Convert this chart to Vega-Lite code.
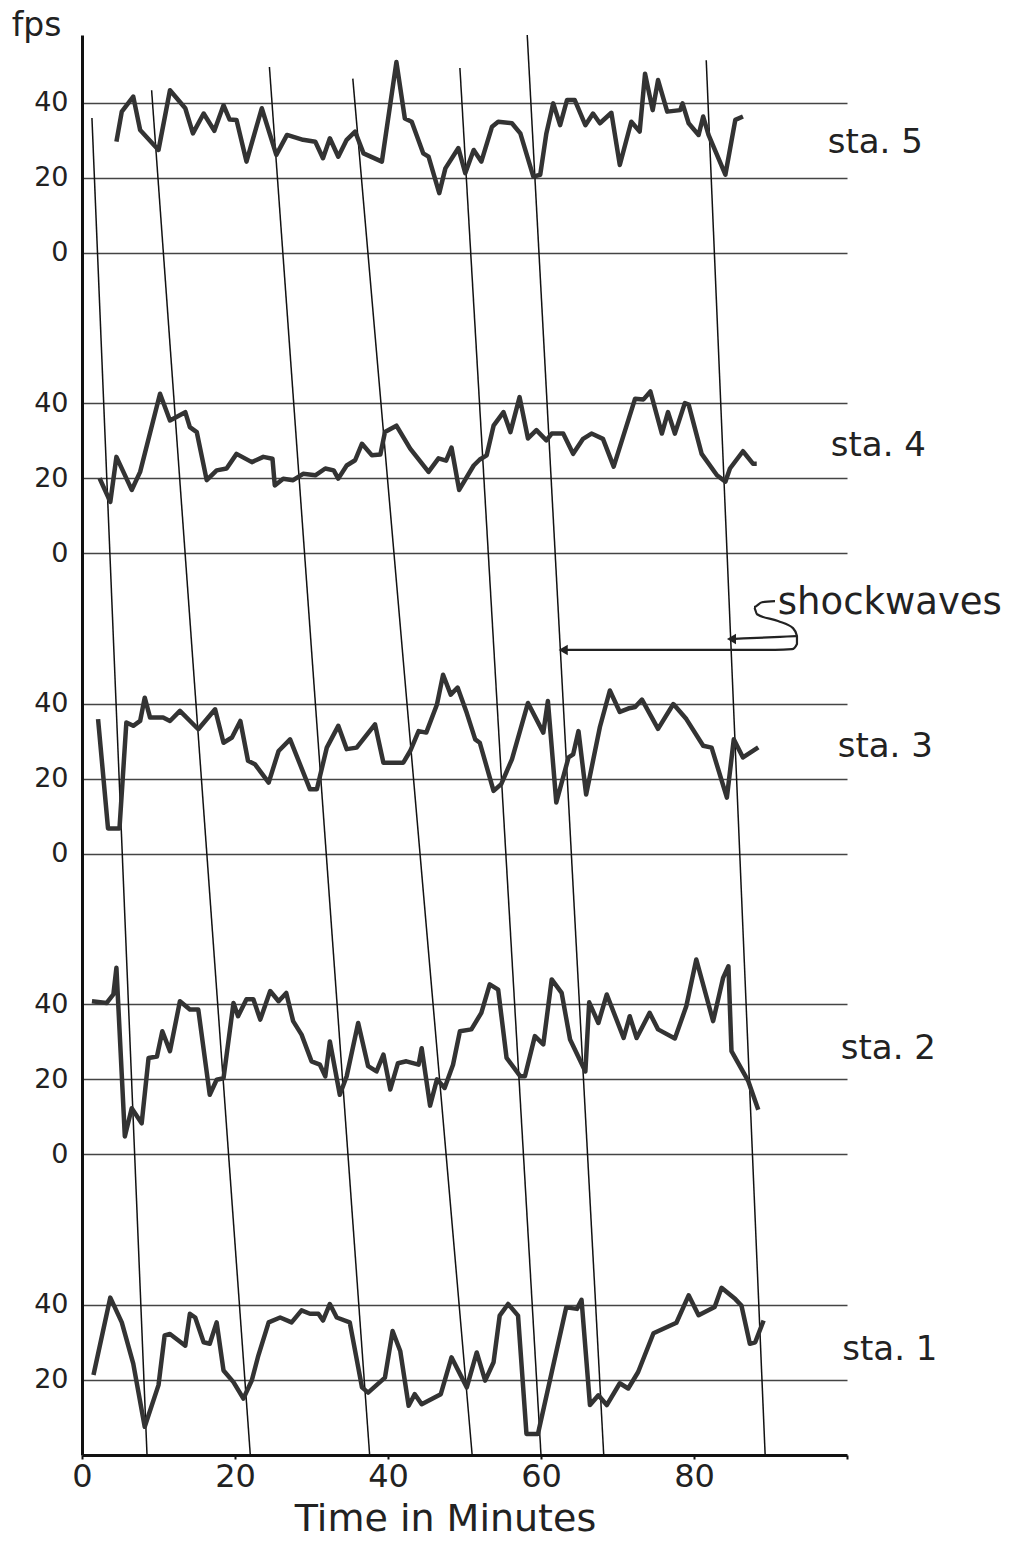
{
  "$schema": "https://vega.github.io/schema/vega-lite/v6.json",
  "autosize": {"type": "none"},
  "padding": {"left": 82, "top": 35, "right": 175, "bottom": 90},
  "width": 765,
  "height": 1420,
  "background": "white",
  "config": {"view": {"stroke": null}, "font": "DejaVu Sans"},
  "datasets": {
    "series": [
      {"s":5,"t":4.5,"fps":29.6},{"s":5,"t":5.2,"fps":37.6},{"s":5,"t":6.7,"fps":41.6},{"s":5,"t":7.6,"fps":32.7},{"s":5,"t":10.0,"fps":27.4},{"s":5,"t":11.5,"fps":43.3},{"s":5,"t":13.5,"fps":38.5},{"s":5,"t":14.5,"fps":31.8},{"s":5,"t":15.9,"fps":37.1},{"s":5,"t":17.3,"fps":32.5},{"s":5,"t":18.5,"fps":39.3},{"s":5,"t":19.3,"fps":35.5},{"s":5,"t":20.2,"fps":35.4},{"s":5,"t":21.5,"fps":24.3},{"s":5,"t":23.5,"fps":38.5},{"s":5,"t":25.4,"fps":26.1},{"s":5,"t":26.8,"fps":31.4},{"s":5,"t":28.9,"fps":30.1},{"s":5,"t":30.5,"fps":29.6},{"s":5,"t":31.5,"fps":25.2},{"s":5,"t":32.4,"fps":30.5},{"s":5,"t":33.5,"fps":25.6},{"s":5,"t":34.6,"fps":30.1},{"s":5,"t":35.7,"fps":32.3},{"s":5,"t":36.8,"fps":26.5},{"s":5,"t":39.2,"fps":24.3},{"s":5,"t":41.1,"fps":50.8},{"s":5,"t":42.2,"fps":35.8},{"s":5,"t":43.1,"fps":34.9},{"s":5,"t":44.6,"fps":26.5},{"s":5,"t":45.3,"fps":25.6},{"s":5,"t":46.7,"fps":15.9},{"s":5,"t":47.5,"fps":22.5},{"s":5,"t":49.2,"fps":27.9},{"s":5,"t":50.1,"fps":21.2},{"s":5,"t":51.2,"fps":27.4},{"s":5,"t":52.2,"fps":24.3},{"s":5,"t":53.6,"fps":33.6},{"s":5,"t":54.4,"fps":34.9},{"s":5,"t":56.2,"fps":34.5},{"s":5,"t":57.3,"fps":31.8},{"s":5,"t":59.0,"fps":20.3},{"s":5,"t":59.9,"fps":20.8},{"s":5,"t":60.7,"fps":31.8},{"s":5,"t":61.6,"fps":39.8},{"s":5,"t":62.5,"fps":34.0},{"s":5,"t":63.4,"fps":40.7},{"s":5,"t":64.4,"fps":40.7},{"s":5,"t":65.8,"fps":34.0},{"s":5,"t":66.8,"fps":37.1},{"s":5,"t":67.7,"fps":34.5},{"s":5,"t":69.2,"fps":37.3},{"s":5,"t":70.3,"fps":23.4},{"s":5,"t":71.8,"fps":34.9},{"s":5,"t":72.9,"fps":32.3},{"s":5,"t":73.6,"fps":47.7},{"s":5,"t":74.6,"fps":38.0},{"s":5,"t":75.3,"fps":46.0},{"s":5,"t":76.5,"fps":37.6},{"s":5,"t":78.2,"fps":38.0},{"s":5,"t":78.5,"fps":39.8},{"s":5,"t":79.3,"fps":34.5},{"s":5,"t":80.6,"fps":31.4},{"s":5,"t":81.2,"fps":36.3},{"s":5,"t":81.9,"fps":31.4},{"s":5,"t":84.1,"fps":20.8},{"s":5,"t":85.4,"fps":35.4},{"s":5,"t":86.4,"fps":36.3},
      {"s":4,"t":2.3,"fps":20.0},{"s":4,"t":3.7,"fps":13.7},{"s":4,"t":4.5,"fps":25.7},{"s":4,"t":6.5,"fps":16.9},{"s":4,"t":7.6,"fps":21.7},{"s":4,"t":10.2,"fps":42.5},{"s":4,"t":11.5,"fps":35.4},{"s":4,"t":13.5,"fps":37.6},{"s":4,"t":14.1,"fps":33.6},{"s":4,"t":15.0,"fps":32.3},{"s":4,"t":16.3,"fps":19.5},{"s":4,"t":17.6,"fps":22.1},{"s":4,"t":18.9,"fps":22.6},{"s":4,"t":20.2,"fps":26.5},{"s":4,"t":22.2,"fps":24.3},{"s":4,"t":23.7,"fps":25.7},{"s":4,"t":24.9,"fps":25.2},{"s":4,"t":25.2,"fps":18.1},{"s":4,"t":26.3,"fps":19.9},{"s":4,"t":27.6,"fps":19.5},{"s":4,"t":28.9,"fps":21.2},{"s":4,"t":30.5,"fps":20.8},{"s":4,"t":31.8,"fps":22.6},{"s":4,"t":32.9,"fps":22.1},{"s":4,"t":33.5,"fps":19.9},{"s":4,"t":34.6,"fps":23.4},{"s":4,"t":35.7,"fps":24.8},{"s":4,"t":36.6,"fps":29.2},{"s":4,"t":37.9,"fps":26.1},{"s":4,"t":39.0,"fps":26.3},{"s":4,"t":39.6,"fps":32.3},{"s":4,"t":41.1,"fps":34.0},{"s":4,"t":42.9,"fps":27.9},{"s":4,"t":45.3,"fps":21.7},{"s":4,"t":46.6,"fps":25.3},{"s":4,"t":47.6,"fps":24.7},{"s":4,"t":48.3,"fps":28.2},{"s":4,"t":49.3,"fps":16.9},{"s":4,"t":51.2,"fps":23.4},{"s":4,"t":52.0,"fps":25.0},{"s":4,"t":52.9,"fps":26.1},{"s":4,"t":53.8,"fps":34.0},{"s":4,"t":55.1,"fps":37.6},{"s":4,"t":56.0,"fps":32.3},{"s":4,"t":57.2,"fps":41.6},{"s":4,"t":58.3,"fps":30.6},{"s":4,"t":59.4,"fps":32.8},{"s":4,"t":60.7,"fps":30.1},{"s":4,"t":61.4,"fps":31.9},{"s":4,"t":62.9,"fps":31.9},{"s":4,"t":64.2,"fps":26.5},{"s":4,"t":65.5,"fps":30.5},{"s":4,"t":66.6,"fps":31.9},{"s":4,"t":68.1,"fps":30.5},{"s":4,"t":69.5,"fps":23.1},{"s":4,"t":72.3,"fps":41.2},{"s":4,"t":73.4,"fps":41.0},{"s":4,"t":74.3,"fps":43.1},{"s":4,"t":75.8,"fps":31.9},{"s":4,"t":76.6,"fps":37.6},{"s":4,"t":77.5,"fps":31.9},{"s":4,"t":78.8,"fps":40.0},{"s":4,"t":79.3,"fps":39.6},{"s":4,"t":81.0,"fps":26.5},{"s":4,"t":83.0,"fps":20.8},{"s":4,"t":84.1,"fps":19.1},{"s":4,"t":84.7,"fps":22.6},{"s":4,"t":86.4,"fps":27.2},{"s":4,"t":87.7,"fps":23.9},{"s":4,"t":88.2,"fps":23.9},
      {"s":3,"t":2.1,"fps":35.9},{"s":3,"t":3.4,"fps":6.8},{"s":3,"t":4.9,"fps":6.8},{"s":3,"t":5.8,"fps":35.0},{"s":3,"t":6.7,"fps":34.1},{"s":3,"t":7.6,"fps":35.4},{"s":3,"t":8.2,"fps":41.6},{"s":3,"t":8.9,"fps":36.3},{"s":3,"t":10.6,"fps":36.3},{"s":3,"t":11.5,"fps":35.4},{"s":3,"t":12.8,"fps":38.1},{"s":3,"t":15.2,"fps":33.2},{"s":3,"t":17.4,"fps":38.5},{"s":3,"t":18.5,"fps":29.6},{"s":3,"t":19.6,"fps":31.0},{"s":3,"t":20.7,"fps":35.4},{"s":3,"t":21.7,"fps":24.8},{"s":3,"t":22.6,"fps":23.9},{"s":3,"t":24.4,"fps":19.0},{"s":3,"t":25.7,"fps":27.4},{"s":3,"t":27.2,"fps":30.5},{"s":3,"t":29.8,"fps":17.2},{"s":3,"t":30.7,"fps":17.2},{"s":3,"t":32.0,"fps":28.3},{"s":3,"t":33.5,"fps":34.1},{"s":3,"t":34.6,"fps":27.9},{"s":3,"t":35.9,"fps":28.3},{"s":3,"t":38.3,"fps":34.5},{"s":3,"t":39.4,"fps":24.3},{"s":3,"t":42.0,"fps":24.3},{"s":3,"t":42.9,"fps":27.4},{"s":3,"t":44.0,"fps":32.7},{"s":3,"t":45.0,"fps":32.3},{"s":3,"t":46.4,"fps":39.8},{"s":3,"t":47.2,"fps":47.7},{"s":3,"t":48.2,"fps":42.4},{"s":3,"t":49.1,"fps":44.3},{"s":3,"t":50.3,"fps":37.5},{"s":3,"t":51.4,"fps":30.5},{"s":3,"t":52.0,"fps":29.6},{"s":3,"t":53.8,"fps":16.8},{"s":3,"t":54.8,"fps":18.6},{"s":3,"t":56.2,"fps":25.2},{"s":3,"t":58.3,"fps":40.2},{"s":3,"t":60.3,"fps":32.3},{"s":3,"t":60.9,"fps":40.7},{"s":3,"t":62.0,"fps":13.7},{"s":3,"t":63.6,"fps":25.7},{"s":3,"t":64.2,"fps":26.5},{"s":3,"t":64.9,"fps":32.7},{"s":3,"t":65.9,"fps":15.8},{"s":3,"t":67.7,"fps":33.8},{"s":3,"t":69.0,"fps":43.5},{"s":3,"t":70.3,"fps":37.8},{"s":3,"t":71.4,"fps":38.7},{"s":3,"t":72.3,"fps":39.1},{"s":3,"t":73.2,"fps":41.1},{"s":3,"t":75.3,"fps":33.3},{"s":3,"t":77.3,"fps":39.9},{"s":3,"t":79.0,"fps":35.9},{"s":3,"t":81.2,"fps":28.8},{"s":3,"t":82.3,"fps":28.3},{"s":3,"t":84.3,"fps":15.0},{"s":3,"t":85.2,"fps":30.5},{"s":3,"t":86.4,"fps":25.7},{"s":3,"t":88.4,"fps":28.4},
      {"s":2,"t":1.3,"fps":40.8},{"s":2,"t":3.2,"fps":40.3},{"s":2,"t":4.1,"fps":42.6},{"s":2,"t":4.5,"fps":49.7},{"s":2,"t":5.6,"fps":4.8},{"s":2,"t":6.5,"fps":12.3},{"s":2,"t":7.8,"fps":8.3},{"s":2,"t":8.7,"fps":25.7},{"s":2,"t":9.8,"fps":26.1},{"s":2,"t":10.5,"fps":32.8},{"s":2,"t":11.5,"fps":27.5},{"s":2,"t":12.8,"fps":40.8},{"s":2,"t":14.1,"fps":38.6},{"s":2,"t":15.2,"fps":38.6},{"s":2,"t":16.7,"fps":15.9},{"s":2,"t":17.6,"fps":19.9},{"s":2,"t":18.5,"fps":20.3},{"s":2,"t":19.8,"fps":40.3},{"s":2,"t":20.4,"fps":36.8},{"s":2,"t":21.5,"fps":41.3},{"s":2,"t":22.4,"fps":41.3},{"s":2,"t":23.3,"fps":35.9},{"s":2,"t":24.6,"fps":43.5},{"s":2,"t":25.7,"fps":40.8},{"s":2,"t":26.7,"fps":43.0},{"s":2,"t":27.6,"fps":35.5},{"s":2,"t":28.7,"fps":31.9},{"s":2,"t":30.0,"fps":24.8},{"s":2,"t":31.1,"fps":23.9},{"s":2,"t":31.8,"fps":20.8},{"s":2,"t":32.4,"fps":30.1},{"s":2,"t":33.7,"fps":15.9},{"s":2,"t":34.6,"fps":20.8},{"s":2,"t":36.1,"fps":35.0},{"s":2,"t":37.4,"fps":23.5},{"s":2,"t":38.5,"fps":22.1},{"s":2,"t":39.4,"fps":26.6},{"s":2,"t":40.3,"fps":17.3},{"s":2,"t":41.3,"fps":24.3},{"s":2,"t":42.4,"fps":24.8},{"s":2,"t":44.0,"fps":23.9},{"s":2,"t":44.4,"fps":28.3},{"s":2,"t":45.5,"fps":13.0},{"s":2,"t":46.4,"fps":20.0},{"s":2,"t":47.4,"fps":17.7},{"s":2,"t":48.5,"fps":23.9},{"s":2,"t":49.4,"fps":32.8},{"s":2,"t":50.9,"fps":33.3},{"s":2,"t":52.2,"fps":37.7},{"s":2,"t":53.3,"fps":45.3},{"s":2,"t":54.4,"fps":43.9},{"s":2,"t":55.5,"fps":25.7},{"s":2,"t":57.3,"fps":20.8},{"s":2,"t":57.9,"fps":20.8},{"s":2,"t":59.2,"fps":31.5},{"s":2,"t":60.3,"fps":29.3},{"s":2,"t":61.4,"fps":46.6},{"s":2,"t":62.7,"fps":43.0},{"s":2,"t":63.8,"fps":30.6},{"s":2,"t":65.8,"fps":22.1},{"s":2,"t":66.3,"fps":40.5},{"s":2,"t":67.5,"fps":35.0},{"s":2,"t":68.6,"fps":42.6},{"s":2,"t":70.8,"fps":31.0},{"s":2,"t":71.6,"fps":36.8},{"s":2,"t":72.5,"fps":31.0},{"s":2,"t":74.2,"fps":37.7},{"s":2,"t":75.3,"fps":33.3},{"s":2,"t":77.5,"fps":30.9},{"s":2,"t":79.0,"fps":39.5},{"s":2,"t":80.3,"fps":51.9},{"s":2,"t":82.5,"fps":35.5},{"s":2,"t":83.8,"fps":47.0},{"s":2,"t":84.5,"fps":50.1},{"s":2,"t":84.9,"fps":27.5},{"s":2,"t":87.1,"fps":19.5},{"s":2,"t":88.4,"fps":11.9},
      {"s":1,"t":1.5,"fps":21.3},{"s":1,"t":3.7,"fps":41.9},{"s":1,"t":5.2,"fps":35.3},{"s":1,"t":6.7,"fps":24.3},{"s":1,"t":8.2,"fps":7.5},{"s":1,"t":10.0,"fps":18.6},{"s":1,"t":10.8,"fps":31.8},{"s":1,"t":11.5,"fps":32.2},{"s":1,"t":13.5,"fps":29.1},{"s":1,"t":14.1,"fps":37.6},{"s":1,"t":14.8,"fps":36.6},{"s":1,"t":15.9,"fps":30.0},{"s":1,"t":16.7,"fps":29.6},{"s":1,"t":17.6,"fps":35.3},{"s":1,"t":18.5,"fps":22.5},{"s":1,"t":19.8,"fps":19.4},{"s":1,"t":21.1,"fps":15.0},{"s":1,"t":22.2,"fps":19.9},{"s":1,"t":23.0,"fps":26.1},{"s":1,"t":24.4,"fps":35.3},{"s":1,"t":25.9,"fps":36.6},{"s":1,"t":27.4,"fps":35.3},{"s":1,"t":28.7,"fps":38.5},{"s":1,"t":29.8,"fps":37.6},{"s":1,"t":30.9,"fps":37.6},{"s":1,"t":31.5,"fps":35.8},{"s":1,"t":32.4,"fps":40.2},{"s":1,"t":33.3,"fps":36.6},{"s":1,"t":35.0,"fps":35.3},{"s":1,"t":36.6,"fps":18.0},{"s":1,"t":37.4,"fps":16.6},{"s":1,"t":39.6,"fps":20.6},{"s":1,"t":40.6,"fps":33.0},{"s":1,"t":41.6,"fps":27.7},{"s":1,"t":42.7,"fps":13.1},{"s":1,"t":43.5,"fps":16.2},{"s":1,"t":44.4,"fps":13.5},{"s":1,"t":46.9,"fps":16.2},{"s":1,"t":48.3,"fps":26.0},{"s":1,"t":50.3,"fps":18.0},{"s":1,"t":51.6,"fps":27.3},{"s":1,"t":52.7,"fps":19.8},{"s":1,"t":53.8,"fps":24.7},{"s":1,"t":54.6,"fps":37.1},{"s":1,"t":55.7,"fps":40.2},{"s":1,"t":57.0,"fps":37.1},{"s":1,"t":58.1,"fps":5.6},{"s":1,"t":59.6,"fps":5.6},{"s":1,"t":63.3,"fps":39.3},{"s":1,"t":64.7,"fps":38.9},{"s":1,"t":65.3,"fps":41.3},{"s":1,"t":66.4,"fps":13.3},{"s":1,"t":67.5,"fps":15.9},{"s":1,"t":68.6,"fps":13.3},{"s":1,"t":70.3,"fps":19.1},{"s":1,"t":71.4,"fps":17.7},{"s":1,"t":72.7,"fps":22.1},{"s":1,"t":74.7,"fps":32.4},{"s":1,"t":77.7,"fps":35.2},{"s":1,"t":79.3,"fps":42.5},{"s":1,"t":80.6,"fps":37.2},{"s":1,"t":82.7,"fps":39.4},{"s":1,"t":83.6,"fps":44.5},{"s":1,"t":85.4,"fps":41.5},{"s":1,"t":86.2,"fps":39.8},{"s":1,"t":87.3,"fps":29.6},{"s":1,"t":88.0,"fps":30.0},{"s":1,"t":89.1,"fps":35.8}
    ],
    "waves": [
      {"w":"A","t":1.3,"y":355.9},{"w":"A","t":8.5,"y":0},
      {"w":"B","t":9.1,"y":363.3},{"w":"B","t":22.0,"y":0},
      {"w":"C","t":24.5,"y":369.5},{"w":"C","t":37.6,"y":0},
      {"w":"D","t":35.4,"y":366.4},{"w":"D","t":51.0,"y":0},
      {"w":"E","t":49.4,"y":369.2},{"w":"E","t":60.0,"y":0},
      {"w":"F","t":58.2,"y":378},{"w":"F","t":68.2,"y":0},
      {"w":"G","t":81.6,"y":371.3},{"w":"G","t":89.3,"y":0}
    ],
    "labels": [
      {"label":"sta. 5","t":103.7,"y":349.2},
      {"label":"sta. 4","t":104.1,"y":268.6},
      {"label":"sta. 3","t":105.0,"y":188.4},
      {"label":"sta. 2","t":105.4,"y":108.1},
      {"label":"sta. 1","t":105.6,"y":27.9}
    ],
    "note": [
      {"p":1,"i":1,"t":90.59,"y":227.3},{"p":1,"i":2,"t":88.89,"y":227.0},{"p":1,"i":3,"t":87.84,"y":225.7},{"p":1,"i":4,"t":88.24,"y":223.8},{"p":1,"i":5,"t":90.98,"y":222.0},{"p":1,"i":6,"t":92.94,"y":220.1},{"p":1,"i":7,"t":93.46,"y":218.0},{"p":1,"i":8,"t":93.46,"y":215.9},{"p":1,"i":9,"t":92.81,"y":214.5},{"p":1,"i":10,"t":90.59,"y":214.3},{"p":1,"i":11,"t":62.75,"y":214.3},
      {"p":2,"i":1,"t":93.33,"y":218.0},{"p":2,"i":2,"t":91.24,"y":217.8},{"p":2,"i":3,"t":84.71,"y":217.2}
    ],
    "heads": [
      {"t":62.9,"y":214.3},{"t":84.9,"y":217.2}
    ]
  },
  "layer": [
    {
      "data": {"name": "waves"},
      "mark": {"type": "line", "color": "#111111", "strokeWidth": 1.5},
      "encoding": {
        "x": {"field": "t", "type": "quantitative", "scale": {"domain": [0, 100], "nice": false, "zero": false},
          "axis": {"values": [0, 20, 40, 60, 80, 100], "labelExpr": "datum.value == 100 ? '' : datum.label", "grid": false,
            "domainColor": "#111111", "domainWidth": 3, "ticks": true, "tickSize": 4, "tickColor": "#111111", "tickWidth": 2,
            "labelFont": "DejaVu Sans", "labelFontSize": 32, "labelColor": "#222222", "labelPadding": 2, "labelFlush": false,
            "title": "Time in Minutes", "titleFont": "DejaVu Sans", "titleFontSize": 38, "titleFontWeight": "normal", "titleColor": "#222222",
            "titlePadding": 8, "titleX": 363}},
        "y": {"field": "y", "type": "quantitative", "scale": {"domain": [0, 378], "nice": false, "zero": false},
          "axis": {"values": [20, 40, 80, 100, 120, 160, 180, 200, 240, 260, 280, 320, 340, 360],
            "labelExpr": "'' + (datum.value % 80)", "grid": true, "gridColor": "#444444", "gridWidth": 1.4,
            "domainColor": "#111111", "domainWidth": 3, "ticks": false, "labelPadding": 14, "labelFlush": false,
            "labelFont": "DejaVu Sans", "labelFontSize": 27, "labelColor": "#222222", "labelBaseline": "middle",
            "title": "fps", "titleAngle": 0, "titleX": -46, "titleY": -10, "titleAlign": "center", "titleBaseline": "middle",
            "titleFont": "DejaVu Sans", "titleFontSize": 33, "titleFontWeight": "normal", "titleColor": "#222222"}},
        "detail": {"field": "w", "type": "nominal"}
      }
    },
    {
      "data": {"name": "labels"},
      "mark": {"type": "text", "font": "DejaVu Sans", "fontSize": 34, "color": "#222222", "align": "center", "baseline": "middle"},
      "encoding": {
        "x": {"field": "t", "type": "quantitative"},
        "y": {"field": "y", "type": "quantitative", "scale": {"domain": [0, 378], "nice": false, "zero": false}, "axis": null},
        "text": {"field": "label"}
      }
    },
    {
      "data": {"values": [{"txt": "shockwaves", "t": 105.6, "y": 226.8}]},
      "mark": {"type": "text", "font": "DejaVu Sans", "fontSize": 37, "color": "#222222", "align": "center", "baseline": "middle"},
      "encoding": {
        "x": {"field": "t", "type": "quantitative"},
        "y": {"field": "y", "type": "quantitative", "scale": {"domain": [0, 378], "nice": false, "zero": false}, "axis": null},
        "text": {"field": "txt"}
      }
    },
    {
      "data": {"name": "note"},
      "mark": {"type": "line", "color": "#222222", "strokeWidth": 2.2, "interpolate": "monotone"},
      "encoding": {
        "x": {"field": "t", "type": "quantitative"},
        "y": {"field": "y", "type": "quantitative", "scale": {"domain": [0, 378], "nice": false, "zero": false}, "axis": null},
        "detail": {"field": "p", "type": "nominal"},
        "order": {"field": "i", "type": "quantitative"}
      }
    },
    {
      "data": {"name": "heads"},
      "mark": {"type": "point", "shape": "triangle-left", "filled": true, "color": "#222222", "size": 110, "opacity": 1},
      "encoding": {
        "x": {"field": "t", "type": "quantitative"},
        "y": {"field": "y", "type": "quantitative", "scale": {"domain": [0, 378], "nice": false, "zero": false}, "axis": null}
      }
    },
    {
      "data": {"name": "series"},
      "transform": [{"filter": "datum.s == 1"}],
      "mark": {"type": "line", "color": "#333333", "strokeWidth": 4.5, "strokeJoin": "round"},
      "encoding": {
        "x": {"field": "t", "type": "quantitative"},
        "y": {"field": "fps", "type": "quantitative", "scale": {"domain": [0, 378], "nice": false, "zero": false}, "axis": null}
      }
    },
    {
      "data": {"name": "series"},
      "transform": [{"filter": "datum.s == 2"}],
      "mark": {"type": "line", "color": "#333333", "strokeWidth": 4.5, "strokeJoin": "round"},
      "encoding": {
        "x": {"field": "t", "type": "quantitative"},
        "y": {"field": "fps", "type": "quantitative", "scale": {"domain": [-80, 298], "nice": false, "zero": false}, "axis": null}
      }
    },
    {
      "data": {"name": "series"},
      "transform": [{"filter": "datum.s == 3"}],
      "mark": {"type": "line", "color": "#333333", "strokeWidth": 4.5, "strokeJoin": "round"},
      "encoding": {
        "x": {"field": "t", "type": "quantitative"},
        "y": {"field": "fps", "type": "quantitative", "scale": {"domain": [-160, 218], "nice": false, "zero": false}, "axis": null}
      }
    },
    {
      "data": {"name": "series"},
      "transform": [{"filter": "datum.s == 4"}],
      "mark": {"type": "line", "color": "#333333", "strokeWidth": 4.5, "strokeJoin": "round"},
      "encoding": {
        "x": {"field": "t", "type": "quantitative"},
        "y": {"field": "fps", "type": "quantitative", "scale": {"domain": [-240, 138], "nice": false, "zero": false}, "axis": null}
      }
    },
    {
      "data": {"name": "series"},
      "transform": [{"filter": "datum.s == 5"}],
      "mark": {"type": "line", "color": "#333333", "strokeWidth": 4.5, "strokeJoin": "round"},
      "encoding": {
        "x": {"field": "t", "type": "quantitative"},
        "y": {"field": "fps", "type": "quantitative", "scale": {"domain": [-320, 58], "nice": false, "zero": false}, "axis": null}
      }
    }
  ],
  "resolve": {"scale": {"y": "independent"}}
}
